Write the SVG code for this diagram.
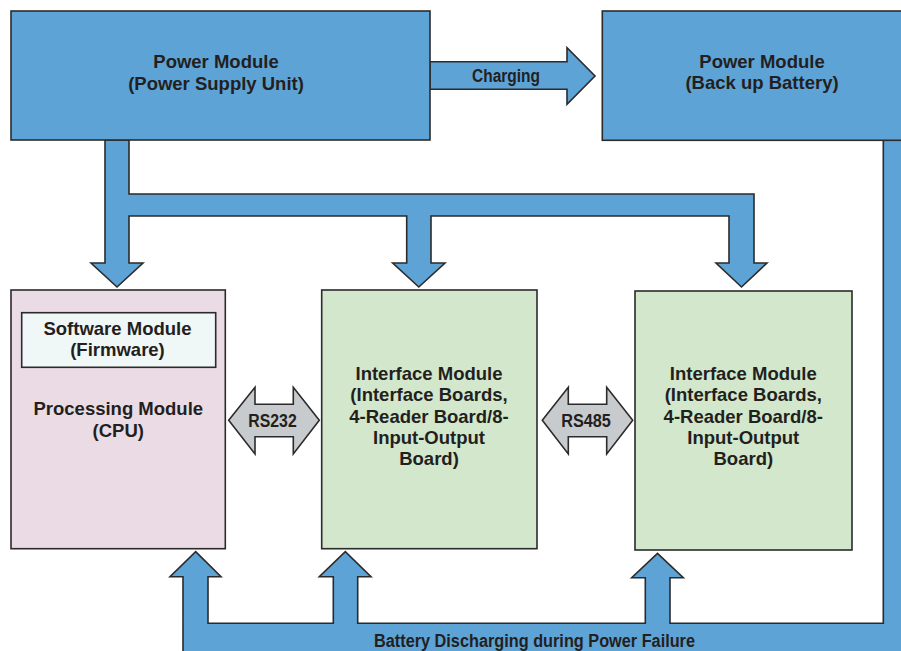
<svg xmlns="http://www.w3.org/2000/svg" width="901" height="651" viewBox="0 0 901 651">
<style>
  .blue { fill: #5ea3d6; stroke: #2b2b2b; stroke-width: 1.6; stroke-linejoin: miter; }
  .gray { fill: #c8cbce; stroke: #2b2b2b; stroke-width: 1.6; }
  .pink { fill: #ebdbe5; stroke: #2b2b2b; stroke-width: 1.6; }
  .green { fill: #d2e7cb; stroke: #2b2b2b; stroke-width: 1.6; }
  .soft { fill: #f0f7f7; stroke: #2b2b2b; stroke-width: 1.6; }
  text { font-family: "Liberation Sans", Arial, sans-serif; font-weight: 700; font-size: 18.5px; fill: #231f20; text-anchor: middle; }
  .cond { font-size: 18px; }
</style>
<rect width="901" height="651" fill="#ffffff"/>
<g id="connectors">
  <path id="power-bus" class="blue" d="M105,140 L105,263 L91,263 L117,287 L143,263 L129,263 L129,216 L406.7,216 L406.7,263 L392.7,263 L418.8,287 L445,263 L431,263 L431,216 L729,216 L729,263 L716,263 L741.5,287 L767,263 L754,263 L754,194 L129,194 L129,140 Z"/>
  <path id="charging" class="blue" d="M430,61.7 L567,61.7 L567,47.7 L595,76 L567,104.3 L567,89.3 L430,89.3 Z"/>
  <text class="cond" x="506" y="81.5" textLength="68" lengthAdjust="spacingAndGlyphs">Charging</text>
  <path id="discharge" class="blue" d="M883.3,140 L883.3,623.3 L670,623.3 L670,577.7 L683.3,577.7 L657.5,553.3 L631.7,577.7 L645.3,577.7 L645.3,623.3 L357.7,623.3 L357.7,576.7 L371,576.7 L345.3,551.7 L319.3,576.7 L333.3,576.7 L333.3,623.3 L208,623.3 L208,576.7 L221,576.7 L195.7,551.7 L170,576.7 L183,576.7 L183,660 L910,660 L910,140 Z"/>
  <text class="cond" x="534.5" y="646.5" textLength="321" lengthAdjust="spacingAndGlyphs">Battery Discharging during Power Failure</text>
  <path id="rs232" class="gray" d="M228.7,420.3 L255,387.3 L255,404.3 L293.3,404.3 L293.3,387.3 L319.3,420.3 L293.3,454 L293.3,436.7 L255,436.7 L255,454 Z"/>
  <text class="cond" x="272.5" y="426.5" textLength="48.4" lengthAdjust="spacingAndGlyphs">RS232</text>
  <path id="rs485" class="gray" d="M542.3,420.3 L568.3,387.3 L568.3,404.3 L606.7,404.3 L606.7,387.3 L632.7,420.3 L606.7,454 L606.7,436.7 L568.3,436.7 L568.3,454 Z"/>
  <text class="cond" x="586" y="426.5" textLength="49.7" lengthAdjust="spacingAndGlyphs">RS485</text>
</g>
<g id="psu">
  <rect class="blue" x="11" y="11" width="419" height="129"/>
  <text x="216" y="68.3">Power Module</text>
  <text x="216" y="90">(Power Supply Unit)</text>
</g>
<g id="battery">
  <rect class="blue" x="602.3" y="11" width="310" height="129.3"/>
  <text x="762" y="67.7">Power Module</text>
  <text x="762" y="89.3">(Back up Battery)</text>
</g>
<g id="processing">
  <rect class="pink" x="11" y="290" width="214.3" height="258.7"/>
  <g id="software">
    <rect class="soft" x="21.7" y="312.7" width="194" height="54.6"/>
    <text x="117.5" y="335">Software Module</text>
    <text x="117.5" y="356">(Firmware)</text>
  </g>
  <text x="118.3" y="415">Processing Module</text>
  <text x="118.3" y="436.7">(CPU)</text>
</g>
<g id="interface1">
  <rect class="green" x="321.7" y="290" width="215.3" height="258.7"/>
  <text x="429" y="380">Interface Module</text>
  <text x="429" y="401.3">(Interface Boards,</text>
  <text x="429" y="422.7">4-Reader Board/8-</text>
  <text x="429" y="444">Input-Output</text>
  <text x="429" y="465.3">Board)</text>
</g>
<g id="interface2">
  <rect class="green" x="635" y="291" width="217" height="259"/>
  <text x="743.3" y="380">Interface Module</text>
  <text x="743.3" y="401.3">(Interface Boards,</text>
  <text x="743.3" y="422.7">4-Reader Board/8-</text>
  <text x="743.3" y="444">Input-Output</text>
  <text x="743.3" y="465.3">Board)</text>
</g>
</svg>
